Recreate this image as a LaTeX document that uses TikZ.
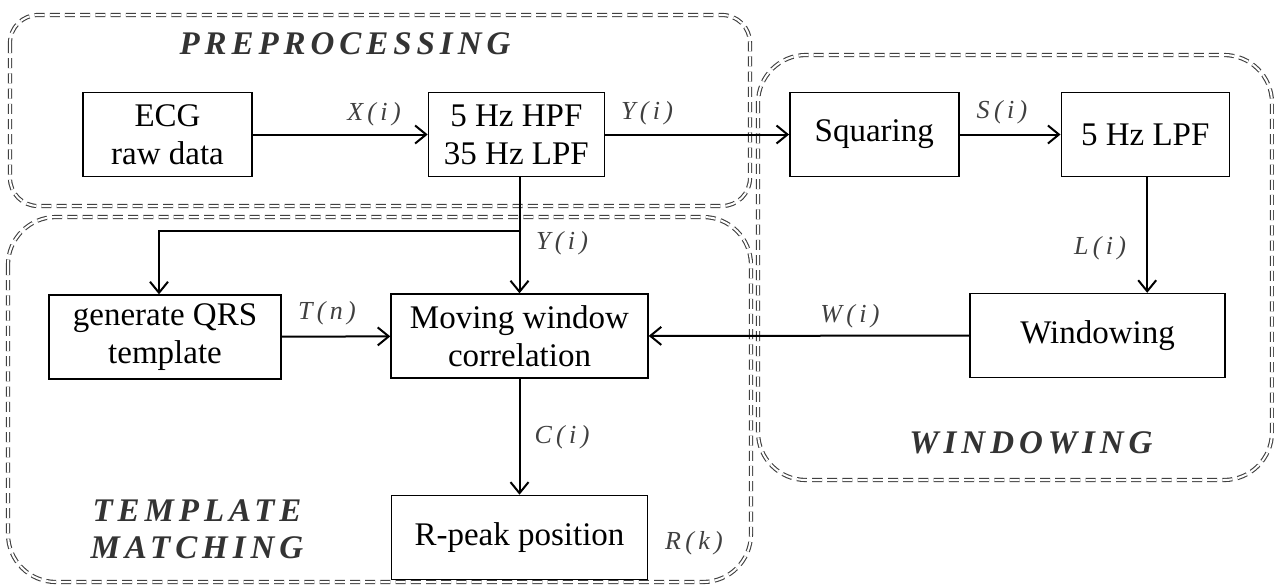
\documentclass[tikz,border=0pt]{standalone}
\usepackage{fontspec}
\setmainfont{Liberation Serif}
\usepackage{tikz}
\usetikzlibrary{
    positioning,      % 相对定位
    arrows.meta,      % 箭头样式
    calc              % 坐标计算
}

\begin{document}
\begin{tikzpicture}[
        x=0.5pt, y=-0.5pt,
        node distance=50pt,
        box/.style={
            rectangle,
            draw=black,
            line width=0.7pt,
            minimum width=#1,
            minimum height=42pt,
            inner sep=0pt,
            align=center,
            font=\fontsize{16.5}{19}\selectfont
        },
        box/.default=84pt,
        arrow/.style={
            -{Straight Barb[length=5.5pt,width=9pt]},
            line width=1pt
        },
        region/.style={
            draw=black!75,
            double,
            double distance=1pt,
            line width=0.55pt,
            dash pattern=on 5pt off 2.6pt,
            rounded corners=#1
        },
        signal/.style={
            text=black!75,
            font=\fontsize{13}{15}\selectfont\itshape\addfontfeature{LetterSpace=8}
        },
        title/.style={
            text=black!80,
            align=center,
            font=\fontsize{16.5}{18.5}\selectfont\bfseries\itshape\addfontfeature{LetterSpace=15}
        }
    ]
    \useasboundingbox (0,0) rectangle (1274,585);

    % 虚线分区
    \draw[region=14pt] (10,15) rectangle (750,206);
    \draw[region=24pt] (758,55) rectangle (1272,480);
    \draw[region=24pt] (8,217) rectangle (751,582);

    % 第一行：预处理与平方
    \node[box=84.5pt] (ecg) at (167.5,134.5) {ECG\\raw data};
    \node[box=88pt, right=87.5pt of ecg] (hpf) {5 Hz HPF\\35 Hz LPF};
    \node[box=84.5pt, right=92pt of hpf] (squaring) {Squaring};
    \node[box=84pt, right=50.5pt of squaring] (lpf) {5 Hz LPF};

    % 第二行：模板匹配与加窗
    \node[box=116pt] (template) at (165,337) {generate QRS\\template};
    \node[box=128.5pt] (corr) at (519.5,336) {Moving window\\correlation};
    \node[box=127.5pt] (windowing) at (1097.5,335.5) {Windowing};

    % 第三行：输出
    \node[box=128pt, below=58pt of corr] (rpeak) {R-peak position};

    % 箭头连接
    \draw[arrow] (ecg) -- (hpf);
    \draw[arrow] (hpf) -- (squaring);
    \draw[arrow] (squaring) -- (lpf);
    \draw[arrow] ([xshift=1pt]lpf.south) -- ([xshift=1pt]lpf.south |- windowing.north);
    \draw[arrow] (windowing) -- (corr);
    \draw[arrow] (hpf.south -| corr.north) -- (corr.north);
    \coordinate (split) at ($(hpf.south -| corr.north)!0.46!(corr.north)$);
    \draw[arrow] (split) -| ([xshift=-3pt]template.north);
    \draw[arrow] (template) -- (corr);
    \draw[arrow] (corr) -- (rpeak);

    % 信号标注
    \node[signal] (xi) at (374,114) {X\,(\,i\,)};
    \node[signal] (yi) at (647,113) {Y\,(\,i\,)};
    \node[signal] (si) at (1002,112) {S\,(\,i\,)};
    \node[signal] (li) at (1100,248) {L\,(\,i\,)};
    \node[signal] (wi) at (850,316) {W\,(\,i\,)};
    \node[signal] (yi2) at (562,243) {Y\,(\,i\,)};
    \node[signal] (tn) at (327,313) {T\,(\,n\,)};
    \node[signal] (ci) at (562,437) {C\,(\,i\,)};
    \node[signal] (rk) at (694,543) {R\,(\,k\,)};

    % 分区标题
    \node[title] (pretitle) at (345,44) {PREPROCESSING};
    \node[title] (wintitle) at (1031,443) {WINDOWING};
    \node[title] (tmtitle) at (197,529.5) {TEMPLATE\\MATCHING};
\end{tikzpicture}
\end{document}
